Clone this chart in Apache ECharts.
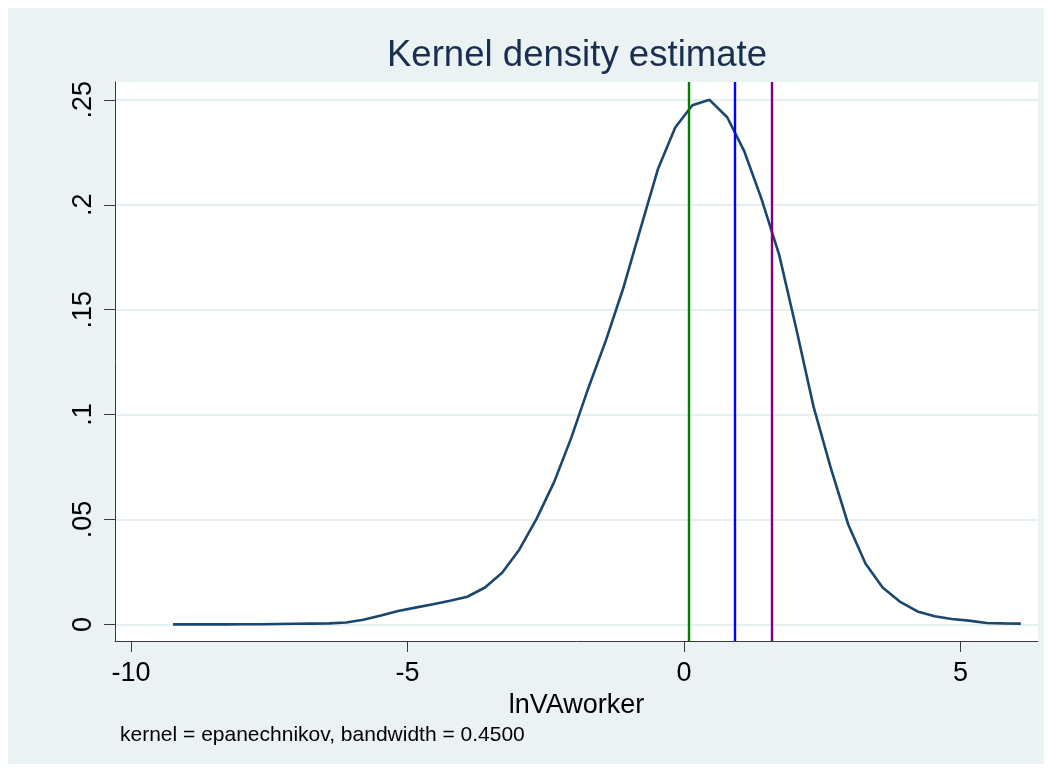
<!DOCTYPE html>
<html><head><meta charset="utf-8">
<script src="https://cdn.jsdelivr.net/npm/echarts@6/dist/echarts.min.js"></script>
<style>
html,body{margin:0;padding:0;background:#ffffff;}
#bg{position:absolute;left:8px;top:8px;width:1036px;height:756px;background:#eaf2f3;}
#chart{position:absolute;left:0;top:0;width:1052px;height:772px;}
</style></head><body>
<div id="bg"></div><div id="chart"></div>
<script>
// ---- data ----
const titleText = 'Kernel density estimate';
const xAxisTitle = 'lnVAworker';
const noteText = 'kernel = epanechnikov, bandwidth = 0.4500';

const xValues = [-9.24, -8.93, -8.61, -8.30, -7.99, -7.67, -7.36, -7.05, -6.73, -6.42,
                 -6.11, -5.80, -5.48, -5.17, -4.86, -4.54, -4.23, -3.92, -3.60, -3.29,
                 -2.98, -2.67, -2.35, -2.04, -1.73, -1.41, -1.10, -0.79, -0.47, -0.16,
                  0.15,  0.46,  0.78,  1.09,  1.40,  1.72,  2.03,  2.34,  2.65,  2.97,
                  3.28,  3.59,  3.90,  4.22,  4.53,  4.84,  5.15,  5.47,  5.78,  6.09];
const density = [0.0000, 0.0000, 0.0000, 0.0000, 0.0001, 0.0001, 0.0002, 0.0003, 0.0004, 0.0005,
                 0.0009, 0.0022, 0.0043, 0.0064, 0.0080, 0.0096, 0.0113, 0.0132, 0.0176, 0.0246,
                 0.0356, 0.0502, 0.0678, 0.0889, 0.1127, 0.1356, 0.1602, 0.1884, 0.2172, 0.2368,
                 0.2474, 0.2500, 0.2417, 0.2254, 0.2028, 0.1761, 0.1408, 0.1039, 0.0748, 0.0475,
                 0.0290, 0.0176, 0.0109, 0.0062, 0.0039, 0.0026, 0.0018, 0.0007, 0.0005, 0.0004];

const xTicks = [-10, -5, 0, 5];
const xTickLabels = ['-10', '-5', '0', '5'];
const yTicks = [0, 0.05, 0.1, 0.15, 0.2, 0.25];
const yTickLabels = ['0', '.05', '.1', '.15', '.2', '.25'];
const xRange = [-10.29, 6.40];
const yRange = [-0.0079, 0.2585];
const refLineValues = [0.08, 0.91, 1.59];

// ---- styles ----
const refLineColors = ['#008000', '#0000ff', '#800080'];
const FONT = '"Liberation Sans", Arial, Helvetica, sans-serif';
const axisColor = '#3a3a3a';

function labelFor(ticks, labels, v) {
  for (let i = 0; i < ticks.length; i++) if (Math.abs(ticks[i] - v) < 1e-9) return labels[i];
  return '';
}

const chart = echarts.init(document.getElementById('chart'), null, {renderer: 'canvas'});
chart.setOption({
  backgroundColor: 'transparent',
  animation: false,
  grid: {left: 115, right: 14, top: 82, bottom: 131, show: true, backgroundColor: '#ffffff', borderWidth: 0},
  graphic: [
    {type: 'text', x: 577, y: 56, silent: true,
     style: {text: titleText, font: '36.6px ' + FONT, fill: '#1a2e4f',
             align: 'center', verticalAlign: 'middle', textAlign: 'center', textVerticalAlign: 'middle'}},
    {type: 'text', x: 120, y: 735, silent: true,
     style: {text: noteText, font: '21px ' + FONT, fill: '#000000',
             align: 'left', verticalAlign: 'middle', textAlign: 'left', textVerticalAlign: 'middle'}}
  ],
  xAxis: {
    type: 'value', min: xRange[0], max: xRange[1],
    name: xAxisTitle, nameLocation: 'middle', nameGap: 44,
    nameTextStyle: {fontFamily: FONT, fontSize: 27, color: '#000'},
    axisLine: {show: true, onZero: false, lineStyle: {color: axisColor, width: 1}},
    axisTick: {show: true, length: 11, inside: false, customValues: xTicks, lineStyle: {color: axisColor, width: 1}},
    axisLabel: {show: true, margin: 19, customValues: xTicks, fontFamily: FONT, fontSize: 27, color: '#000',
                formatter: v => labelFor(xTicks, xTickLabels, v)},
    splitLine: {show: false}
  },
  yAxis: {
    type: 'value', min: yRange[0], max: yRange[1],
    axisLine: {show: true, onZero: false, lineStyle: {color: axisColor, width: 1}},
    axisTick: {show: true, length: 11, inside: false, customValues: yTicks, lineStyle: {color: axisColor, width: 1}},
    axisLabel: {show: true, margin: 18, rotate: 90, customValues: yTicks, fontFamily: FONT, fontSize: 27, color: '#000',
                formatter: v => labelFor(yTicks, yTickLabels, v)},
    splitLine: {show: true, customValues: yTicks, lineStyle: {color: '#e6eff1', width: 2}}
  },
  series: [{
    type: 'line',
    data: xValues.map((x, i) => [x, density[i]]),
    showSymbol: false, symbol: 'none', smooth: false,
    lineStyle: {color: '#1a476f', width: 2.6},
    z: 3,
    markLine: {
      silent: true, symbol: ['none', 'none'], label: {show: false},
      data: refLineValues.map((v, i) => ({xAxis: v, lineStyle: {color: refLineColors[i], width: 2.4, type: 'solid'}}))
    }
  }]
});
</script>
</body></html>
